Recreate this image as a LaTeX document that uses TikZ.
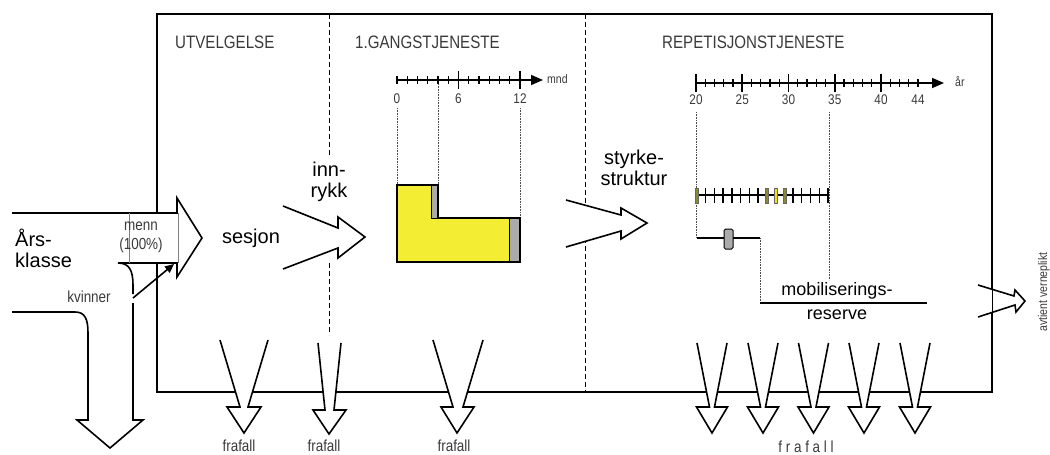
\documentclass[tikz,border=0pt]{standalone}
\usepackage{fontspec}
\setmainfont{Liberation Sans}
\newfontfamily\condf[FakeStretch=0.84]{Liberation Sans}
\usetikzlibrary{arrows.meta}
\definecolor{yelc}{HTML}{F3EE33}
\definecolor{grayc}{HTML}{ABABAB}
\definecolor{olivec}{HTML}{8C8A2E}
\definecolor{brightyel}{HTML}{F5E400}
\definecolor{txtgray}{HTML}{3A3A3A}
\begin{document}
\begin{tikzpicture}[x=1pt,y=-1pt,line join=miter,
  ln/.style={line width=1.6pt},
  boxline/.style={line width=1.8pt},
  dashln/.style={line width=0.8pt,dash pattern=on 5pt off 3pt},
  dotln/.style={line width=0.5pt,dash pattern=on 0.8pt off 0.8pt,black!70},
  flow/.style={line width=1.6pt,fill=white},
  big/.style={font=\fontsize{20}{21}\selectfont,align=center,inner sep=0},
  mid/.style={font=\fontsize{18}{21}\selectfont,align=center,inner sep=0},
  hdr/.style={font=\condf\fontsize{18}{20}\selectfont,text=txtgray,anchor=base west,inner sep=0},
  lab/.style={font=\condf\fontsize{16}{19}\selectfont,text=txtgray,align=center,inner sep=0},
  axl/.style={font=\condf\fontsize{14}{16}\selectfont,text=txtgray,inner sep=0},
  axs/.style={font=\condf\fontsize{12.5}{14}\selectfont,text=txtgray,inner sep=0}]
\useasboundingbox (0,0) rectangle (1050,455);

% frame and section separators
\draw[boxline] (157,14) rectangle (992,392);
\draw[dashln] (329,14) -- (329,155);
\draw[dashln] (329,263) -- (329,335);
\draw[dashln] (585,14) -- (585,392);

% headers
\node[hdr] (h1) at (175,48) {UTVELGELSE};
\node[hdr] (h2) at (355,48) {1.GANGSTJENESTE};
\node[hdr] (h3) at (662,48) {REPETISJONSTJENESTE};

% Aarsklasse flow
\fill[white] (12,213) rectangle (177,263);
\draw[ln] (12,213) -- (177,213) -- (177,198) -- (202,238) -- (177,277) -- (177,263) -- (118,263);
\draw[line width=0.6pt,gray] (178,213) -- (178,263);
\draw[line width=0.6pt,gray] (129,213) -- (129,263);
\draw[ln] (118,263) .. controls (129,263) and (133,270) .. (133,285) -- (133,294);
\draw[ln] (133,303) -- (133,420) -- (143,420) -- (110,448) -- (77,420) -- (88,420) -- (88,333)
      .. controls (88,319) and (85,312) .. (75,312) -- (12,312);
\node[big,anchor=west,align=left] (aars) at (15,248) {Års-\\klasse};
\node[lab] (menn) at (141,237) {menn\\(100\%)};
\node[lab] (kvinner) at (89,297) {kvinner};
\coordinate (kvstart) at (133,298);
\coordinate (kvend) at (174,264);
\draw[ln,-{Triangle[length=9pt,width=8pt]}] (kvstart) -- (kvend);

% sesjon -> innrykk
\node[big] (sesjon) at (251,238) {sesjon};
\node[big] (innrykk) at (329,182) {inn-\\rykk};
\filldraw[flow] (283,206) -- (338,228) -- (338,217) -- (365,237) -- (338,258) -- (338,248) -- (283,269);

% month axis
\draw[ln,-{Triangle[length=12pt,width=10pt]}] (396,80) -- (543,80);
\foreach \i in {0,...,12}{
  \pgfmathsetmacro{\xx}{397+\i*10.25}
  \ifnum\i=6 \draw[ln] (\xx,71) -- (\xx,89);
  \else\ifnum\i=12 \draw[ln] (\xx,71) -- (\xx,89);
  \else \draw[line width=1.4pt] (\xx,76) -- (\xx,84); \fi\fi
}
\node[axl] (m0) at (397,99) {0};
\node[axl] (m6) at (458.5,99) {6};
\node[axl] (m12) at (520,99) {12};
\node[axs,anchor=west] (mnd) at (547,79) {mnd};
\draw[dotln] (397,108) -- (397,185);
\draw[dotln] (438,84) -- (438,185);
\draw[dotln] (520,108) -- (520,218);

% first service block
\fill[yelc] (397,185) -- (438,185) -- (438,218) -- (520,218) -- (520,262) -- (397,262) -- cycle;
\filldraw[fill=grayc,line width=0.8pt] (431,185) rectangle (438,218);
\filldraw[fill=grayc,line width=0.8pt] (509,218) rectangle (520,262);
\draw[line width=1.8pt] (397,185) -- (438,185) -- (438,218) -- (520,218) -- (520,262) -- (397,262) -- cycle;

% styrkestruktur
\node[big] (styrke) at (634,168) {styrke-\\struktur};
\filldraw[flow] (566,200) -- (621,215) -- (621,208) -- (647,223) -- (621,239) -- (621,231) -- (566,247);

% year axis
\draw[ln,-{Triangle[length=12pt,width=10pt]}] (696,83) -- (944,83);
\foreach \y in {20,...,44}{
  \pgfmathsetmacro{\xx}{696+(\y-20)*9.25}
  \pgfmathtruncatemacro{\rr}{mod(\y,5)}
  \ifnum\rr=0 \ifnum\y<44 \draw[ln] (\xx,74) -- (\xx,92); \fi
  \else \draw[line width=1.4pt] (\xx,79) -- (\xx,87); \fi
}
\foreach \y in {20,25,30,35,40,44}{
  \node[axl] (yr\y) at ({696+(\y-20)*9.25},100) {\y};
}
\node[axs,anchor=west] (aar) at (955,82) {år};
\draw[dotln] (696,112) -- (696,238);
\draw[dotln] (829,112) -- (829,280);

% repetition ticks
\draw[ln] (697,195) -- (828,195);
\foreach \i in {0,...,15}{
  \pgfmathsetmacro{\xx}{697+\i*8.73}
  \draw[line width=1.4pt] (\xx,188) -- (\xx,203);
}
\foreach \i/\c in {0/olivec,8/olivec,9/brightyel,10/olivec}{
  \pgfmathsetmacro{\xx}{697+\i*8.73}
  \filldraw[fill=\c,draw=black!60,line width=0.4pt] (\xx-1.6,188) rectangle (\xx+1.6,203);
}

% second bar
\draw[ln] (697,238) -- (760,238);
\filldraw[fill=grayc,line width=1pt,rounded corners=1.5pt] (724,229) rectangle (733,249);
\draw[dotln] (760,238) -- (760,303);
\draw[ln] (760,303) -- (927,303);
\node[mid] (mobil) at (837,291) {mobiliserings-};
\node[mid] (reserve) at (837,315) {reserve};

% avtjent verneplikt
\filldraw[flow] (978,285) -- (1014,296) -- (1015,290) -- (1025,301) -- (1016,312) -- (1015,305) -- (978,317);
\draw[line width=0.6pt] (992,288) -- (992,314);
\node[axs,rotate=90] (avtjent) at (1044,292) {avtient verneplikt};

% frafall arrows
\filldraw[flow] (220,340) -- (240,407) -- (227,407) -- (244,433) -- (261,407) -- (248,407) -- (268,340);
\filldraw[flow] (318,343) -- (325,410) -- (313,410) -- (329,434) -- (346,410) -- (334,410) -- (341,343);
\filldraw[flow] (433,340) -- (453,407) -- (441,407) -- (457,433) -- (474,407) -- (463,407) -- (483,340);
\foreach \c in {712,763,813.5,864,915}{
  \filldraw[flow] (\c-15,343) -- (\c-2.5,407) -- (\c-15.5,407) -- (\c,433) -- (\c+15.5,407) -- (\c+2.5,407) -- (\c+15,343);
}
\node[lab] (f1) at (239,446) {frafall};
\node[lab] (f2) at (324,446) {frafall};
\node[lab] (f3) at (454,446) {frafall};
\node[lab] (f4) at (806,447) {f r a f a l l};
\end{tikzpicture}
\end{document}
